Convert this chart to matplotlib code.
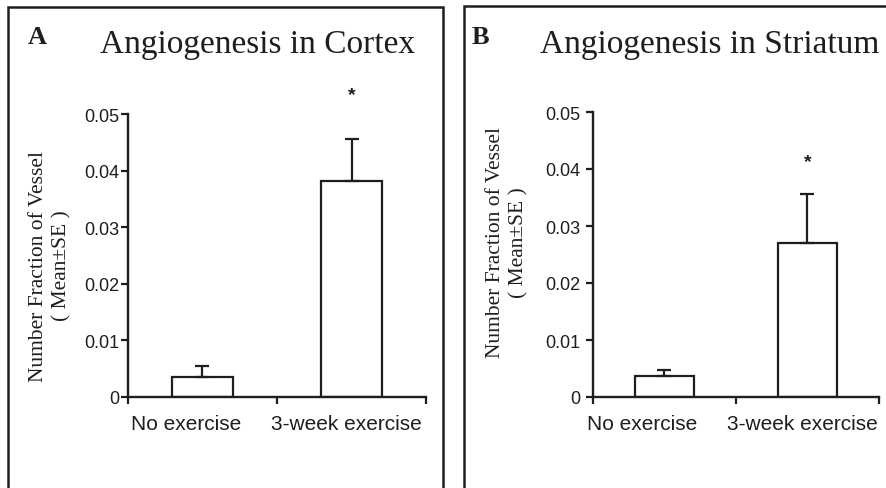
import matplotlib.pyplot as plt
from matplotlib.patches import Rectangle
from matplotlib.transforms import ScaledTranslation
import numpy as np

categories = ['No exercise', '3-week exercise']

cortex_mean = [0.0036, 0.0381]
cortex_se = [0.0018, 0.0074]

striatum_mean = [0.0036, 0.0270]
striatum_se = [0.0011, 0.0087]

titles = ['Angiogenesis in Cortex', 'Angiogenesis in Striatum']
letters = ['A', 'B']
yticks = [0, 0.01, 0.02, 0.03, 0.04, 0.05]
ytick_labels = ['0', '0.01', '0.02', '0.03', '0.04', '0.05']
ylabel = 'Number Fraction of Vessel\n( Mean\u00b1SE )'

ink = '#1e1e1e'
serif = 'Liberation Serif'
sans = 'Liberation Sans'

fig = plt.figure(figsize=(8.87, 4.89), dpi=100)

# panel frames (both run past the bottom edge, B past the right edge)
fig.patches.append(Rectangle((8 / 887, -0.1), 435 / 887, 1.1 - 8 / 489,
                             transform=fig.transFigure, fill=False,
                             lw=1.8, ec=ink))
fig.patches.append(Rectangle((464 / 887, -0.1), 0.5, 1.1 - 7 / 489,
                             transform=fig.transFigure, fill=False,
                             lw=1.8, ec=ink))

panels = [
    dict(rect=[128 / 887, 1 - 398 / 489, 298 / 887, 283 / 489],
         mean=cortex_mean, se=cortex_se, star_off=0.0079,
         title_x=258 / 887, letter_x=28 / 887, label_xy=(-0.19, 0.466),
         ypad=1.0, xshift=[-16, -5]),
    dict(rect=[593 / 887, 1 - 398 / 489, 286 / 887, 285 / 489],
         mean=striatum_mean, se=striatum_se, star_off=0.0056,
         title_x=710 / 887, letter_x=472 / 887, label_xy=(-0.224, 0.544),
         ypad=4.0, xshift=[-22, -5]),
]

for i, p in enumerate(panels):
    ax = fig.add_axes(p['rect'])
    x = np.arange(len(categories)) + 0.5
    ax.bar(x, p['mean'], width=0.41, color='white', edgecolor=ink,
           linewidth=1.6, zorder=2)
    ax.errorbar(x, p['mean'], yerr=[np.zeros(len(x)), p['se']], fmt='none',
                ecolor=ink, elinewidth=1.6, capsize=5, capthick=1.6,
                zorder=3, clip_on=False)
    top = np.array(p['mean']) + np.array(p['se'])
    ax.text(x[1], top[1] + p['star_off'], '*', ha='center', va='center',
            fontsize=14, fontweight='bold', family=sans, color=ink,
            clip_on=False)

    ax.set_xlim(0, len(categories))
    ax.set_ylim(0, 0.05)
    for side in ['top', 'right']:
        ax.spines[side].set_visible(False)
    for side in ['left', 'bottom']:
        ax.spines[side].set_linewidth(1.7)
        ax.spines[side].set_color(ink)

    ax.set_yticks(yticks)
    ax.set_yticklabels(ytick_labels, family=sans, fontsize=13, color=ink)
    ax.tick_params(axis='y', length=5, width=1.6, color=ink, pad=p['ypad'])

    ax.set_xticks(np.arange(len(categories) + 1))
    ax.set_xticklabels([])
    ax.tick_params(axis='x', which='major', length=5, width=1.6, color=ink)
    ax.set_xticks(x, minor=True)
    ax.set_xticklabels(categories, minor=True, family=sans, fontsize=15,
                       color=ink)
    ax.tick_params(axis='x', which='minor', length=0, pad=12)
    for lab, dx in zip(ax.xaxis.get_minorticklabels(), p['xshift']):
        lab.set_transform(lab.get_transform() +
                          ScaledTranslation(dx / 100, 0, fig.dpi_scale_trans))

    ax.set_ylabel(ylabel, family=serif, fontsize=15.5, color=ink,
                  linespacing=1.3)
    ax.yaxis.set_label_coords(*p['label_xy'])

    fig.text(p['title_x'], 1 - 45 / 489, titles[i], family=serif,
             fontsize=24, ha='center', va='center', color=ink)
    fig.text(p['letter_x'], 1 - 37 / 489, letters[i], family=serif,
             fontsize=19, fontweight='bold', ha='left', va='center',
             color=ink)

fig.savefig('out.png', dpi=100, facecolor='white')
